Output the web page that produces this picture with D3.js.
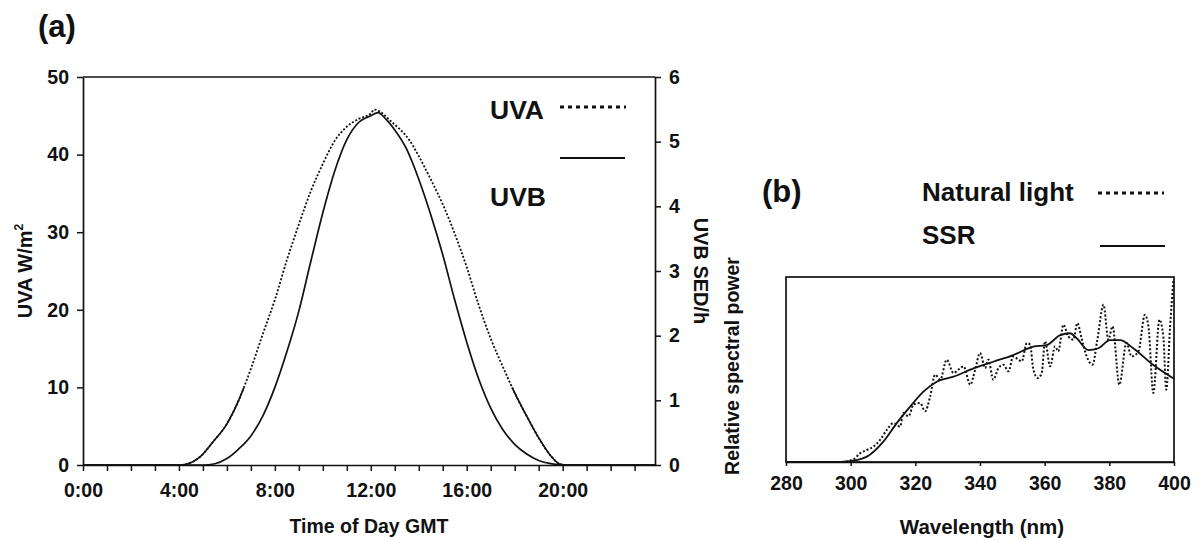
<!DOCTYPE html>
<html>
<head>
<meta charset="utf-8">
<script src="https://cdn.jsdelivr.net/npm/d3@7"></script>
<style>
  body { margin: 0; background: #fff; }
  text { font-family: "Liberation Sans", Arial, sans-serif; font-weight: bold; fill: #111; }
</style>
</head>
<body>
<script>
// panel (a): UV over the day
var uvaHours = [0, 4, 4.3, 4.9, 5.4, 6.0, 6.5, 7.0, 7.5, 8.0, 8.5, 9.0, 9.5, 10.0, 10.5, 11.0, 11.5, 12.0, 12.15,
	12.4, 12.8, 13.2, 13.6, 14.0, 14.5, 15.0, 15.5, 16.0, 16.5, 17.0, 17.5, 18.0, 18.5, 19.0, 19.5, 19.9, 20.2, 23.85];
var uvaValues = [0, 0, 0.1, 1.1, 2.9, 5.3, 8.4, 12.4, 16.9, 21.3, 26.4, 31.0, 35.3, 38.8, 41.8, 43.6, 44.6, 45.3, 45.8,
	45.5, 44.4, 43.3, 41.9, 39.8, 36.8, 33.6, 29.8, 25.5, 20.6, 16.3, 12.7, 9.3, 6.3, 3.5, 1.2, 0.1, 0, 0];

var uvbHours = [0, 5.0, 5.5, 6.0, 6.5, 7.0, 7.5, 8.0, 8.5, 9.0, 9.5, 10.0, 10.5, 11.0, 11.5, 12.0, 12.3, 12.6,
	13.0, 13.5, 14.0, 14.5, 15.0, 15.5, 16.0, 16.5, 17.0, 17.5, 18.0, 18.5, 19.0, 19.5, 20.0, 23.85];
var uvbValues = [0, 0, 0.02, 0.1, 0.25, 0.45, 0.76, 1.2, 1.75, 2.38, 3.15, 3.9, 4.55, 5.03, 5.3, 5.4, 5.45, 5.36,
	5.18, 4.88, 4.42, 3.87, 3.25, 2.55, 1.9, 1.33, 0.88, 0.55, 0.32, 0.17, 0.07, 0.02, 0, 0];

var hourTicks = d3.range(0, 24);
var uvaTicks = [0, 10, 20, 30, 40, 50];
var uvbTicks = [0, 1, 2, 3, 4, 5, 6];

// panel (b): spectra
var ssrWave = [280, 294.6, 299.8, 305, 310.1, 314.2, 318.4, 322.5, 326.6, 331.8, 338, 344.1, 350.3, 356.5, 360.6,
	364.8, 367.8, 369.9, 373.5, 376.6, 380.2, 383.3, 387.4, 393.6, 400];
var ssrValues = [0, 0, 0.5, 2.9, 11, 20.9, 29.9, 38, 43.4, 46.1, 50.6, 54.2, 57.8, 62.3, 63.2,
	68.6, 69.6, 66.9, 60.5, 61.5, 65.9, 65.9, 61.5, 52.4, 45];

var natWave = [280, 297, 300.8, 302.9, 305, 307, 309.1, 311.2, 313.2, 315.3, 316.3, 317.9, 319.4, 321.5, 323, 324.6,
	326.1, 327.7, 329.7, 331.8, 333.3, 334.9, 337, 338.5, 340, 341.6, 342.6, 344.1, 345.7, 347.2, 348.8, 350.3,
	351.9, 352.9, 354.5, 355.5, 356.5, 357.9, 359.1, 360.1, 361.7, 363.2, 364.2, 365.8, 367.3, 368.9, 370.1, 371.4,
	373, 374.8, 376.3, 378.2, 379.7, 381, 383.1, 385.3, 386.9, 389, 391, 392.1, 393.6, 395.5, 396.7, 397.6, 398.8, 399.8];
var natValues = [0, 0, 1.4, 4.7, 6.5, 8.3, 12, 17.4, 21, 19.2, 26.5, 24.7, 31, 31.9, 27.4, 35.5,
	47.2, 44.5, 55.3, 48.1, 49.9, 51.7, 41.8, 49.9, 58.9, 50.8, 55.3, 44.5, 50.8, 52.6, 49, 57.1,
	55.3, 54.4, 64.3, 63.4, 49.9, 45.4, 48.1, 65.2, 51.7, 62.5, 59.8, 74.2, 67.9, 66.1, 75.1, 67,
	57.1, 52.6, 66.1, 85, 66.1, 73.3, 41.8, 64.3, 57.1, 59.8, 79.6, 73.3, 37.3, 76.9, 67.9, 39.1, 73.3, 98.4];
var waveTicks = [280, 300, 320, 340, 360, 380, 400];

var canvas;
var canvasWidth = 1201;
var canvasHeight = 540;
var ink = "#111";
var tickFont = 19.5;

initCanvas();
drawPanelA();
drawPanelB();

function initCanvas() {
	canvas = d3.select("body").append("svg")
		.attr("width", canvasWidth)
		.attr("height", canvasHeight);
}

function styleAxis(g) {
	g.selectAll("path.domain").attr("stroke", ink).attr("stroke-width", 1.7);
	g.selectAll(".tick line").attr("stroke", ink).attr("stroke-width", 1.5);
	g.selectAll(".tick text")
		.attr("font-family", "Liberation Sans, Arial, sans-serif")
		.attr("font-weight", "bold")
		.attr("font-size", tickFont)
		.attr("fill", ink);
}

// square-dot legend sample, like the printed key
function legendDots(x1, x2, y) {
	canvas.append("line")
		.attr("x1", x1).attr("x2", x2).attr("y1", y).attr("y2", y)
		.attr("stroke", ink).attr("stroke-width", 3.2).attr("stroke-dasharray", "4,4");
}

function legendSolid(x1, x2, y) {
	canvas.append("line")
		.attr("x1", x1).attr("x2", x2).attr("y1", y).attr("y2", y)
		.attr("stroke", ink).attr("stroke-width", 1.8);
}

function drawPanelA() {
	var xScale = d3.scaleLinear().domain([0, 23.85]).range([83, 655]);
	var yScale = d3.scaleLinear().domain([0, 50]).range([465, 77]);
	var yScale2 = d3.scaleLinear().domain([0, 6]).range([465, 77]);

	// top border
	canvas.append("line")
		.attr("x1", xScale(0)).attr("x2", xScale(23.85))
		.attr("y1", yScale(50)).attr("y2", yScale(50))
		.attr("stroke", ink).attr("stroke-width", 1.7);

	var xAxis = canvas.append("g")
		.attr("transform", "translate(0," + yScale(0) + ")")
		.call(d3.axisBottom(xScale)
			.tickValues(hourTicks)
			.tickSize(6).tickSizeOuter(0).tickPadding(12)
			.tickFormat(function(d) { return (d % 4 == 0 && d <= 20) ? d + ":00" : ""; }));
	styleAxis(xAxis);

	var yAxis = canvas.append("g")
		.attr("transform", "translate(" + xScale(0) + ",0)")
		.call(d3.axisLeft(yScale).tickValues(uvaTicks).tickSize(6).tickSizeOuter(0).tickPadding(8));
	styleAxis(yAxis);

	var yAxis2 = canvas.append("g")
		.attr("transform", "translate(" + xScale(23.85) + ",0)")
		.call(d3.axisRight(yScale2).tickValues(uvbTicks).tickFormat(d3.format("d"))
			.tickSize(6).tickSizeOuter(0).tickPadding(8));
	styleAxis(yAxis2);

	var uvaLine = d3.line()
		.x(function(d, i) { return xScale(uvaHours[i]); })
		.y(function(d) { return yScale(d); })
		.curve(d3.curveMonotoneX);

	var uvbLine = d3.line()
		.x(function(d, i) { return xScale(uvbHours[i]); })
		.y(function(d) { return yScale2(d); })
		.curve(d3.curveMonotoneX);

	// low part of the UVA trace prints almost solid
	canvas.append("clipPath").attr("id", "uvaLow")
		.append("rect")
		.attr("x", xScale(0)).attr("width", xScale(23.85) - xScale(0))
		.attr("y", yScale(10)).attr("height", yScale(0) - yScale(10) + 2);

	canvas.append("path")
		.attr("d", uvaLine(uvaValues))
		.attr("fill", "none").attr("stroke", ink)
		.attr("stroke-width", 1.8).attr("stroke-dasharray", "2,1.8");

	canvas.append("path")
		.attr("d", uvaLine(uvaValues))
		.attr("clip-path", "url(#uvaLow)")
		.attr("fill", "none").attr("stroke", ink)
		.attr("stroke-width", 1.6);

	canvas.append("path")
		.attr("d", uvbLine(uvbValues))
		.attr("fill", "none").attr("stroke", ink)
		.attr("stroke-width", 1.7);

	// titles
	canvas.append("text").attr("x", 38).attr("y", 37).attr("font-size", 31).text("(a)");

	canvas.append("text")
		.attr("x", 369).attr("y", 533)
		.attr("text-anchor", "middle").attr("font-size", 19.5)
		.text("Time of Day GMT");

	var uvaLabel = canvas.append("text")
		.attr("transform", "translate(32,271) rotate(-90)")
		.attr("text-anchor", "middle").attr("font-size", 20);
	uvaLabel.append("tspan").text("UVA W/m");
	uvaLabel.append("tspan").attr("font-size", 12).attr("dy", -9).text("2");

	canvas.append("text")
		.attr("transform", "translate(694,271) rotate(90)")
		.attr("text-anchor", "middle").attr("font-size", 20)
		.text("UVB SED/h");

	// legend
	canvas.append("text").attr("x", 490).attr("y", 119).attr("font-size", 26.5).text("UVA");
	legendDots(560, 626, 107);
	legendSolid(560, 625, 158);
	canvas.append("text").attr("x", 490).attr("y", 206).attr("font-size", 26.5).text("UVB");
}

function drawPanelB() {
	var xScale = d3.scaleLinear().domain([280, 400]).range([786, 1174]);
	var yScale = d3.scaleLinear().domain([0, 100]).range([462, 277]);

	canvas.append("rect")
		.attr("x", xScale(280)).attr("y", yScale(100))
		.attr("width", xScale(400) - xScale(280)).attr("height", yScale(0) - yScale(100))
		.attr("fill", "none").attr("stroke", ink).attr("stroke-width", 1.7);

	var xAxis = canvas.append("g")
		.attr("transform", "translate(0," + yScale(0) + ")")
		.call(d3.axisBottom(xScale).tickValues(waveTicks).tickSize(4).tickSizeOuter(0).tickPadding(10));
	styleAxis(xAxis);

	var ssrLine = d3.line()
		.x(function(d, i) { return xScale(ssrWave[i]); })
		.y(function(d) { return yScale(d); })
		.curve(d3.curveMonotoneX);

	var natLine = d3.line()
		.x(function(d, i) { return xScale(natWave[i]); })
		.y(function(d) { return yScale(d); })
		.curve(d3.curveMonotoneX);

	canvas.append("path")
		.attr("d", natLine(natValues))
		.attr("fill", "none").attr("stroke", ink)
		.attr("stroke-width", 2).attr("stroke-dasharray", "2,2");

	canvas.append("path")
		.attr("d", ssrLine(ssrValues))
		.attr("fill", "none").attr("stroke", ink)
		.attr("stroke-width", 1.8);

	canvas.append("text").attr("x", 762).attr("y", 202).attr("font-size", 31).text("(b)");

	canvas.append("text")
		.attr("x", 982).attr("y", 534)
		.attr("text-anchor", "middle").attr("font-size", 20.5)
		.text("Wavelength (nm)");

	canvas.append("text")
		.attr("transform", "translate(739,366) rotate(-90)")
		.attr("text-anchor", "middle").attr("font-size", 19.5)
		.text("Relative spectral power");

	// legend
	canvas.append("text").attr("x", 922).attr("y", 201).attr("font-size", 26).text("Natural light");
	legendDots(1098, 1164, 193);
	canvas.append("text").attr("x", 922).attr("y", 244).attr("font-size", 26).text("SSR");
	legendSolid(1100, 1165, 246);
}
</script>
</body>
</html>
